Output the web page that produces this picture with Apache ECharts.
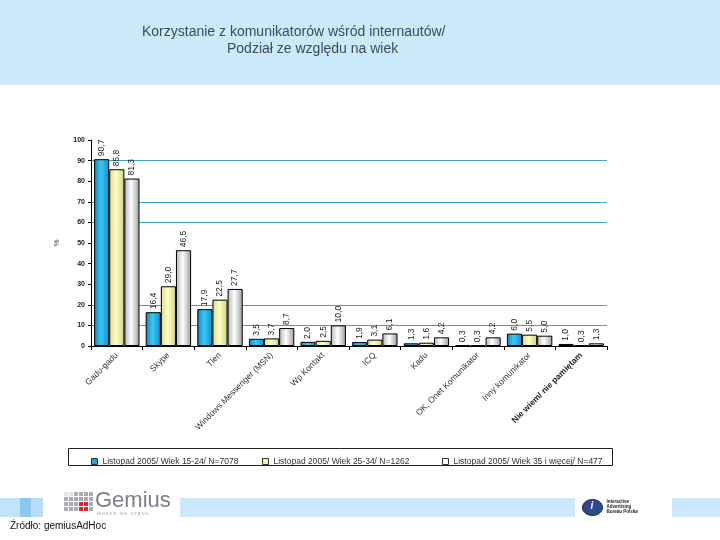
<!DOCTYPE html>
<html>
<head>
<meta charset="utf-8">
<script src="https://cdn.jsdelivr.net/npm/echarts@6/dist/echarts.min.js"></script>
<style>
  html, body { margin: 0; padding: 0; background: #fff; }
  #chart { width: 720px; height: 540px; }
</style>
</head>
<body>
<div id="chart"></div>
<script>
// kategorie i wartości (%)
const categories = [
  "Gadu-gadu", "Skype", "Tlen", "Windows Messenger (MSN)", "Wp Kontakt",
  "ICQ", "Kadu", "OK, Onet Komunikator", "Inny komunikator", "Nie wiem/ nie pamiętam"
];
const seriesNames = [
  "Listopad 2005/ Wiek 15-24/ N=7078",
  "Listopad 2005/ Wiek 25-34/ N=1262",
  "Listopad 2005/ Wiek 35 i więcej/ N=477"
];
const age1524 = [90.7, 16.4, 17.9, 3.5, 2.0, 1.9, 1.3, 0.3, 6.0, 1.0];
const age2534 = [85.8, 29.0, 22.5, 3.7, 2.5, 3.1, 1.6, 0.3, 5.5, 0.3];
const age35plus = [81.3, 46.5, 27.7, 8.7, 10.0, 6.1, 4.2, 4.2, 5.0, 1.3];
const yTicks = [0, 10, 20, 30, 40, 50, 60, 70, 80, 90, 100];

const chart = echarts.init(document.getElementById("chart"), null, { renderer: "canvas" });

// gradient słupka (jasny środek)
function grad(a, b, c) {
  return new echarts.graphic.LinearGradient(0, 0, 1, 0, [
    { offset: 0, color: a },
    { offset: 0.45, color: b },
    { offset: 1, color: c }
  ]);
}
const fills = [
  grad("#0a86bf", "#3cc6f4", "#0b8fc9"),
  grad("#d9d98a", "#ffffc4", "#cfcf84"),
  grad("#b4b4b4", "#ffffff", "#9c9c9c")
];
const legendColors = ["#1aa6dc", "#f2f2a8", "#ffffff"];

const font = "Liberation Sans, Arial, sans-serif";

function makeSeries(name, data, i) {
  return {
    name: name,
    type: "bar",
    data: data,
    barGap: "0%",
    barCategoryGap: "12%",
    itemStyle: { color: fills[i], borderColor: "#000", borderWidth: 1 },
    label: {
      show: true,
      position: "top",
      rotate: 90,
      align: "left",
      verticalAlign: "middle",
      distance: 3,
      fontSize: 8.5,
      fontFamily: font,
      color: "#222",
      formatter: p => p.value.toFixed(1).replace(".", ",")
    }
  };
}

function legendAt(name, left, i) {
  return {
    data: [{ name: name, itemStyle: { color: legendColors[i], borderColor: "#333", borderWidth: 1 } }],
    left: left,
    top: 452,
    icon: "rect",
    itemWidth: 6,
    itemHeight: 6,
    itemGap: 4,
    selectedMode: false,
    textStyle: { fontSize: 8.5, fontFamily: font, color: "#333" }
  };
}

// linie siatki widoczne tylko na części podziałek (jak w oryginale)
const gridColors = yTicks.map(v => [10, 20, 60, 70, 90].includes(v) ? "#3aa9b8" : "rgba(0,0,0,0)");

// logo Gemius: siatka kwadracików
const gemiusSquares = [];
for (let r = 0; r < 4; r++) {
  for (let c = 0; c < 6; c++) {
    const red = (r === 2 || r === 3) && (c === 3 || c === 4);
    gemiusSquares.push({
      type: "rect",
      shape: { x: c * 5, y: 4 + r * 5, width: 4, height: 4 },
      style: { fill: red ? "#d42a2a" : (r === 0 && c < 2 ? "#e0e2e5" : "#a9adb3") }
    });
  }
}

const option = {
  backgroundColor: "#fff",
  animation: false,
  grid: { left: 91, right: 113, top: 140, bottom: 194 },
  legend: [
    legendAt(seriesNames[0], 86, 0),
    legendAt(seriesNames[1], 257, 1),
    legendAt(seriesNames[2], 437, 2)
  ],
  xAxis: {
    type: "category",
    data: categories,
    axisLine: { lineStyle: { color: "#000", width: 1 } },
    axisTick: { show: true, length: 4, lineStyle: { color: "#000" } },
    axisLabel: {
      rotate: 45,
      interval: 0,
      margin: 8,
      fontSize: 8.5,
      fontFamily: font,
      color: "#333",
      formatter: (v, i) => i === 9 ? "{b|" + v + "}" : v,
      rich: { b: { fontWeight: "bold", fontSize: 8.5, fontFamily: font, color: "#222" } }
    }
  },
  yAxis: {
    type: "value",
    min: 0,
    max: 100,
    interval: 10,
    name: "%",
    nameLocation: "middle",
    nameGap: 30,
    nameRotate: 90,
    nameTextStyle: { fontSize: 8, fontFamily: font, color: "#333" },
    axisLine: { show: true, lineStyle: { color: "#000" } },
    axisTick: { show: true, length: 3, lineStyle: { color: "#000" } },
    axisLabel: { fontSize: 7, fontWeight: "bold", fontFamily: font, color: "#222", margin: 6 },
    splitLine: { show: true, lineStyle: { color: gridColors, width: 1 } }
  },
  series: [
    makeSeries(seriesNames[0], age1524, 0),
    makeSeries(seriesNames[1], age2534, 1),
    makeSeries(seriesNames[2], age35plus, 2)
  ],
  graphic: [
    // nagłówek
    { type: "rect", left: 0, top: 0, z: -10, shape: { width: 720, height: 85 }, style: { fill: "#cce9fb" } },
    { type: "text", left: 142, top: 25, style: { text: "Korzystanie z komunikatorów wśród internautów/", font: "14px " + font, fill: "#3d4a57" } },
    { type: "text", left: 227, top: 42, style: { text: "Podział ze względu na wiek", font: "14px " + font, fill: "#3d4a57" } },
    // ramka legendy
    { type: "rect", left: 68, top: 448, z: -5, shape: { width: 544, height: 17 }, style: { fill: "#fff", stroke: "#222", lineWidth: 1 } },
    // stopka
    { type: "rect", left: 0, top: 498, z: -10, shape: { width: 20, height: 19 }, style: { fill: "#c2e3fa" } },
    { type: "rect", left: 20, top: 498, z: -10, shape: { width: 11, height: 19 }, style: { fill: "#8ec8f0" } },
    { type: "rect", left: 31, top: 498, z: -10, shape: { width: 12, height: 19 }, style: { fill: "#b9ddf7" } },
    { type: "rect", left: 180, top: 498, z: -10, shape: { width: 395, height: 19 }, style: { fill: "#cce9fb" } },
    { type: "rect", left: 672, top: 498, z: -10, shape: { width: 48, height: 19 }, style: { fill: "#cce9fb" } },
    // logo Gemius
    {
      type: "group", left: 64, top: 490,
      children: gemiusSquares.concat([
        { type: "text", x: 31, y: 2, style: { text: "Gemius", font: "22px " + font, fill: "#7b8087" } },
        { type: "text", x: 33, y: 24, style: { text: "W H E R E   W E   S T A N D", font: "4px " + font, fill: "#9aa0a6" } }
      ])
    },
    { type: "text", left: 10, top: 521, style: { text: "Źródło: gemiusAdHoc", font: "10px " + font, fill: "#111" } },
    // logo IAB
    {
      type: "group", left: 582, top: 499,
      children: [
        { type: "ellipse", shape: { cx: 10, cy: 9, rx: 10, ry: 8 }, style: { fill: "#2c4a8c", stroke: "#222", lineWidth: 1 } },
        { type: "text", x: 8, y: 3, style: { text: "i", font: "italic bold 10px " + font, fill: "#fff" } },
        { type: "text", x: 24, y: 1, style: { text: "Interactive\nAdvertising\nBureau Polska", font: "bold 4.5px " + font, fill: "#222", lineHeight: 5 } }
      ]
    }
  ]
};

chart.setOption(option);
</script>
</body>
</html>
